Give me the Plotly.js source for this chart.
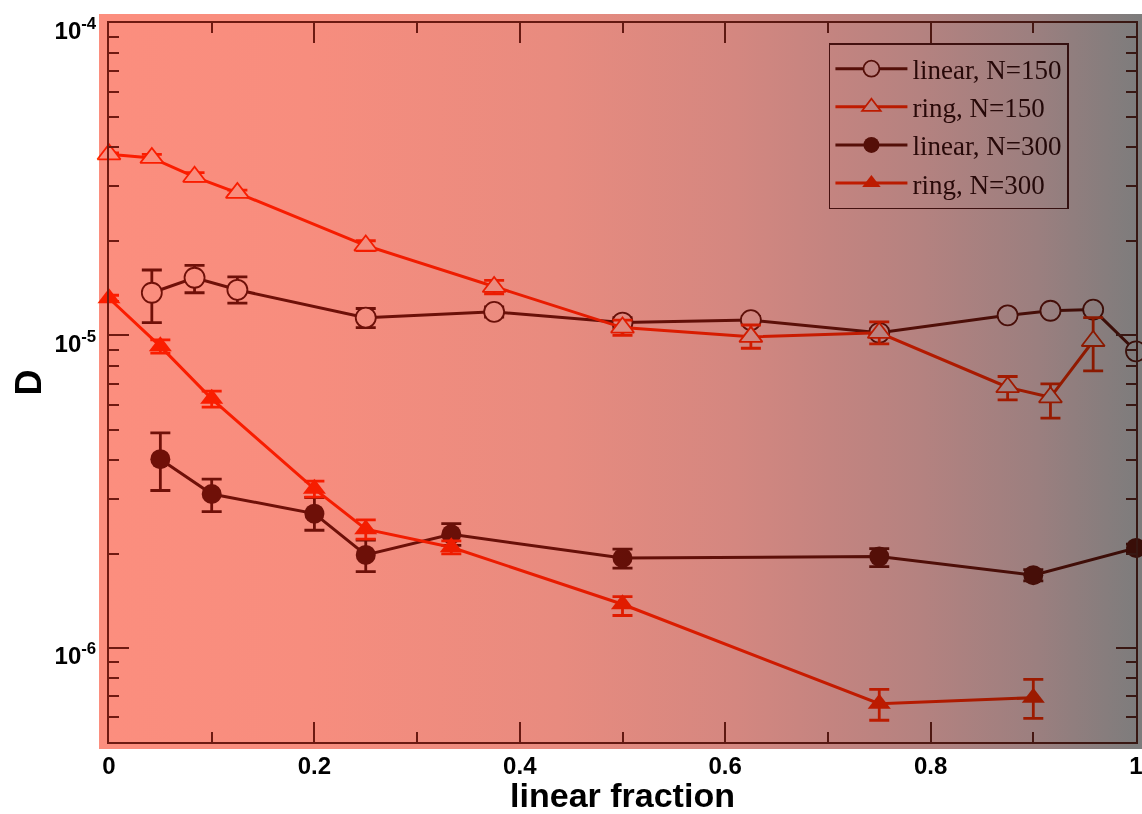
<!DOCTYPE html>
<html>
<head>
<meta charset="utf-8">
<script src="https://cdn.plot.ly/plotly-3.0.1.min.js"></script>
<style>
  html, body { margin: 0; padding: 0; background: #ffffff; }
  #wrap { position: relative; width: 1142px; height: 814px; overflow: hidden; }
  #chart { width: 1142px; height: 814px; }
  /* colour wash over the plotting panel, multiplied into everything beneath it */
  #tint {
    position: absolute; left: 99px; top: 14px; width: 1043px; height: 735px;
    pointer-events: none; mix-blend-mode: multiply;
    background: linear-gradient(to right,
      rgb(252,142,126) 0%,
      rgb(247,141,126) 20%,
      rgb(232,139,127) 44%,
      rgb(212,135,128) 61%,
      rgb(196,132,128) 70%,
      rgb(180,130,128) 79%,
      rgb(155,127,127) 90%,
      rgb(124,124,124) 100%);
  }
</style>
</head>
<body>
<div id="wrap">
  <div id="chart"></div>
  <div id="tint"></div>
</div>
<script>
// linear chains, N = 150
const fracLinear150 = [0.0417, 0.0833, 0.125, 0.25, 0.375, 0.5, 0.625, 0.75, 0.875, 0.9167, 0.9583, 1];
const dLinear150    = [1.37e-5, 1.53e-5, 1.40e-5, 1.14e-5, 1.19e-5, 1.10e-5, 1.12e-5, 1.02e-5, 1.16e-5, 1.20e-5, 1.21e-5, 8.9e-6];
const upLinear150   = [2.5e-6, 1.45e-6, 1.4e-6, 8e-7, 4.5e-7, 4e-7, 3e-7, 3e-7, 2e-7, 2e-7, 2e-7, 2e-7];
const downLinear150 = [2.7e-6, 1.6e-6, 1.3e-6, 8e-7, 4.5e-7, 4e-7, 3e-7, 3e-7, 2e-7, 2e-7, 2e-7, 2e-7];

// rings, N = 150
const fracRing150 = [0, 0.0417, 0.0833, 0.125, 0.25, 0.375, 0.5, 0.625, 0.75, 0.875, 0.9167, 0.9583];
const dRing150    = [3.80e-5, 3.70e-5, 3.22e-5, 2.86e-5, 1.94e-5, 1.43e-5, 1.06e-5, 9.9e-6, 1.02e-5, 6.83e-6, 6.34e-6, 9.6e-6];
const upRing150   = [4e-7, 1e-6, 1e-6, 6e-7, 7e-7, 7e-7, 6e-7, 9e-7, 8.5e-7, 5.6e-7, 6.6e-7, 1.8e-6];
const downRing150 = [4e-7, 1e-6, 1e-6, 6e-7, 7e-7, 7e-7, 6e-7, 8e-7, 8e-7, 6.1e-7, 9e-7, 1.9e-6];

// linear chains, N = 300
const fracLinear300 = [0.05, 0.1, 0.2, 0.25, 0.3333, 0.5, 0.75, 0.9, 1];
const dLinear300    = [4.02e-6, 3.11e-6, 2.69e-6, 1.985e-6, 2.31e-6, 1.94e-6, 1.96e-6, 1.71e-6, 2.09e-6];
const upLinear300   = [8.6e-7, 3.6e-7, 3.4e-7, 2.3e-7, 1.9e-7, 1.3e-7, 1.2e-7, 7e-8, 6e-8];
const downLinear300 = [8.3e-7, 3.8e-7, 3.1e-7, 2.3e-7, 1.8e-7, 1.4e-7, 1.4e-7, 7e-8, 6e-8];

// rings, N = 300
const fracRing300 = [0, 0.05, 0.1, 0.2, 0.25, 0.3333, 0.5, 0.75, 0.9];
const dRing300    = [1.315e-5, 9.23e-6, 6.27e-6, 3.23e-6, 2.40e-6, 2.10e-6, 1.38e-6, 6.63e-7, 6.93e-7];
const upRing300   = [3e-7, 4.5e-7, 3.7e-7, 1.9e-7, 1.7e-7, 1.0e-7, 8e-8, 7.4e-8, 1.0e-7];
const downRing300 = [3e-7, 4.5e-7, 3.7e-7, 1.9e-7, 1.7e-7, 1.0e-7, 1.1e-7, 7.6e-8, 9.8e-8];

const seriesNames = ['linear, N=150', 'ring, N=150', 'linear, N=300', 'ring, N=300'];

const xTickVals = [0, 0.2, 0.4, 0.6, 0.8, 1];
const xTickText = ['0', '0.2', '0.4', '0.6', '0.8', '1'];
const yTickVals = [1e-6, 1e-5, 1e-4];
const yTickText = ['10<sup>-6</sup>', '10<sup>-5</sup>', '10<sup>-4</sup>'];

const LINEAR = '#721c10';
const RING = '#ff3300';
const AXIS = 'rgb(112,46,36)';

function series(name, x, y, up, down, color, symbol, filled) {
  return {
    type: 'scatter',
    mode: 'lines+markers',
    name: name,
    x: x,
    y: y,
    cliponaxis: false,
    line: { color: color, width: 3 },
    marker: {
      symbol: symbol,
      size: 20,
      color: filled ? color : '#ffffff',
      line: { color: color, width: filled ? 0 : 1.8 }
    },
    error_y: {
      type: 'data', symmetric: false,
      array: up, arrayminus: down,
      color: color, thickness: 2.8, width: 10
    }
  };
}

const traces = [
  series(seriesNames[0], fracLinear150, dLinear150, upLinear150, downLinear150, LINEAR, 'circle', false),
  series(seriesNames[1], fracRing150, dRing150, upRing150, downRing150, RING, 'triangle-up', false),
  series(seriesNames[2], fracLinear300, dLinear300, upLinear300, downLinear300, LINEAR, 'circle', true),
  series(seriesNames[3], fracRing300, dRing300, upRing300, downRing300, RING, 'triangle-up', true)
];

const boldFont = (size) => ({ family: 'Liberation Sans, Arial, Helvetica, sans-serif', size: size, color: '#000000', weight: 'bold' });

const layout = {
  width: 1142,
  height: 814,
  margin: { l: 109, r: 6, t: 23, b: 72, pad: 0 },
  paper_bgcolor: '#ffffff',
  plot_bgcolor: 'rgba(0,0,0,0)',
  showlegend: true,
  legend: {
    x: 0.701, y: 0.972, xanchor: 'left', yanchor: 'top',
    bgcolor: 'rgba(0,0,0,0)',
    bordercolor: '#5a2020', borderwidth: 1.5,
    font: { family: 'Liberation Serif, Times New Roman, serif', size: 27, color: '#3a1010' },
    itemwidth: 72,
    tracegroupgap: 0
  },
  xaxis: {
    range: [0, 1],
    tickmode: 'array', tickvals: xTickVals, ticktext: xTickText,
    ticks: 'inside', ticklen: 20, tickwidth: 2, tickcolor: AXIS,
    showline: true, linecolor: AXIS, linewidth: 2, mirror: 'allticks',
    showgrid: false, zeroline: false,
    tickfont: boldFont(24),
    ticklabelstandoff: 1,
    ticklabeloverflow: 'allow',
    minor: { dtick: 0.1, tick0: 0, ticks: 'inside', ticklen: 10, tickwidth: 2, tickcolor: AXIS, showgrid: false },
    title: { text: 'linear fraction', font: boldFont(34), standoff: 21 }
  },
  yaxis: {
    type: 'log',
    range: [Math.log10(5e-7), -4],
    tickmode: 'array', tickvals: yTickVals, ticktext: yTickText,
    ticks: 'inside', ticklen: 20, tickwidth: 2, tickcolor: AXIS,
    showline: true, linecolor: AXIS, linewidth: 2, mirror: 'allticks',
    showgrid: false, zeroline: false,
    tickfont: boldFont(24),
    ticklabelstandoff: 6,
    ticklabelshift: 8,
    ticklabeloverflow: 'allow',
    minor: { dtick: 'D1', ticks: 'inside', ticklen: 10, tickwidth: 2, tickcolor: AXIS, showgrid: false },
    title: { text: 'D', font: boldFont(36), standoff: 2 }
  }
};

Plotly.newPlot('chart', traces, layout, { displayModeBar: false, staticPlot: true });
</script>
</body>
</html>
